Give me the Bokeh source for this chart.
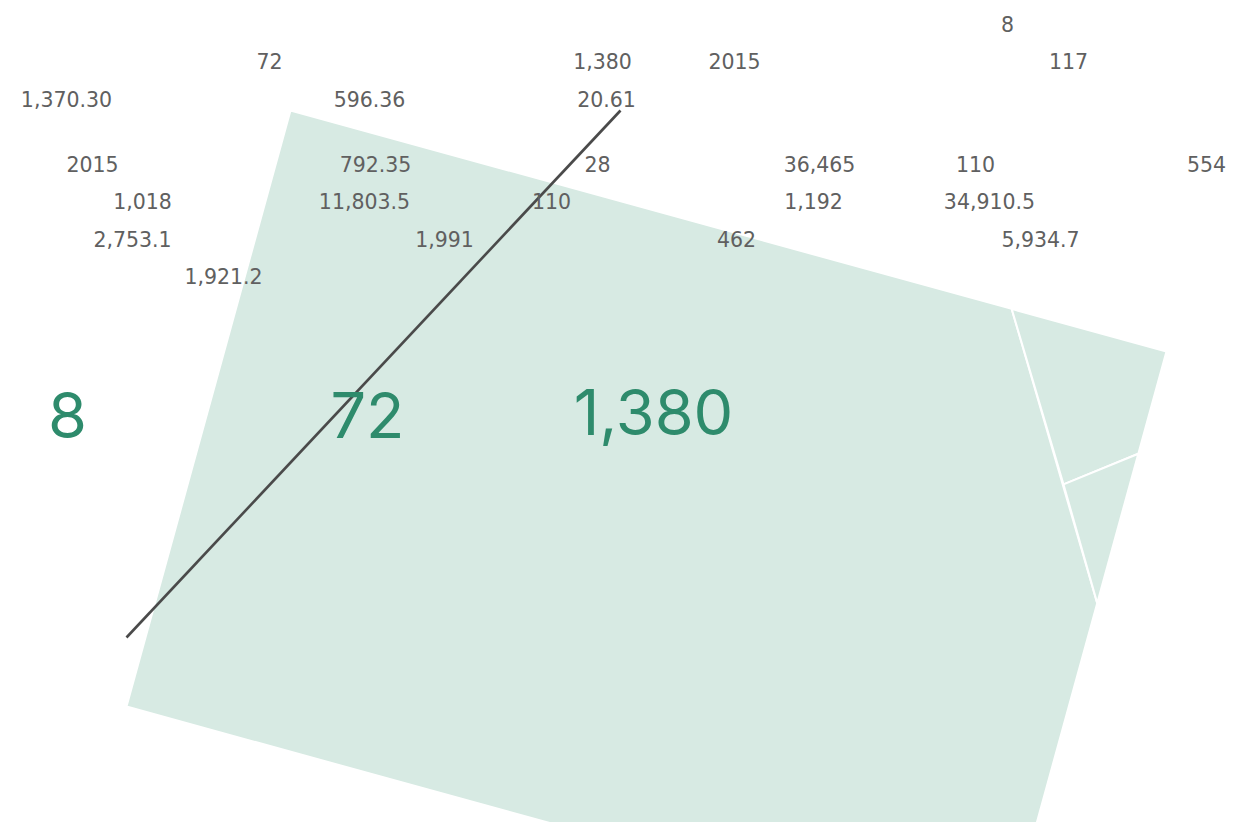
import numpy as np
from bokeh.plotting import figure
from bokeh.models import Range1d, ColumnDataSource
from bokeh.core.properties import value
from bokeh.embed import file_html
from bokeh.resources import INLINE

# ---------------- data ----------------
big_values = ["8", "72", "1,380"]
label_values = [
    "8", "72", "1,380", "2015", "117",
    "1,370.30", "596.36", "20.61",
    "2015", "792.35", "28", "36,465", "110", "554",
    "1,018", "11,803.5", "110", "1,192", "34,910.5",
    "2,753.1", "1,991", "462", "5,934.7",
    "1,921.2",
]
cell_names = ["main", "upper", "lower"]

# ---------------- layout (page pixels) ----------------
big_x = [67, 367, 653]
big_y = [414, 414, 411]
label_x = [1007, 269, 602, 734, 1068,
           66, 369, 606,
           92, 375, 597, 819, 975, 1206,
           142, 364, 551, 813, 989,
           132, 444, 736, 1040,
           223]
label_y = [23, 60, 60, 60, 60,
           98, 98, 98,
           163, 163, 163, 163, 163, 163,
           200, 200, 200, 200, 200,
           238, 238, 238, 238,
           275]

# rotated treemap frame
origin = np.array([290.0, 110.0])
frame_w, frame_h = 908.5, 618.2
angle = np.arctan2(241.0, 876.0)
# cell outlines in frame fractions (a along top edge, b down the left edge)
cells_local = [
    [(0, 0), (0.8233, 0), (1, 0.4222), (1, 1), (0, 1)],
    [(0.8233, 0), (1, 0), (1, 0.1715), (0.9296, 0.2515)],
    [(0.9296, 0.2515), (1, 0.1715), (1, 0.4222)],
]
trend_x = [620, 126]
trend_y = [110, 637]

u = np.array([np.cos(angle), np.sin(angle)])
v = np.array([-np.sin(angle), np.cos(angle)])


def to_page(pts):
    xs, ys = [], []
    for a, b in pts:
        pt = origin + a * frame_w * u + b * frame_h * v
        xs.append(pt[0])
        ys.append(pt[1])
    return xs, ys


xs_list, ys_list = [], []
for c in cells_local:
    xs, ys = to_page(c)
    xs_list.append(xs)
    ys_list.append(ys)

W, H = 1235, 822
p = figure(width=W, height=H,
           x_range=Range1d(0, W), y_range=Range1d(H, 0),
           output_backend="svg", toolbar_location=None, min_border=0)
p.axis.visible = False
p.grid.visible = False
p.outline_line_color = None
p.background_fill_color = "white"
p.border_fill_color = "white"

cell_src = ColumnDataSource(dict(xs=xs_list, ys=ys_list, name=cell_names))
p.patches("xs", "ys", source=cell_src, fill_color="#d7eae3",
          line_color="white", line_width=2)

p.line(trend_x, trend_y, line_color="#4a4a4a", line_width=2.6)

p.text(big_x, big_y, text=big_values, text_align="center",
       text_baseline="middle", text_font=value("Inter"),
       text_font_size="63px", text_color="#2e8b6c")

p.text(label_x, label_y, text=label_values, text_align="center",
       text_baseline="middle", text_font=value("DejaVu Sans"),
       text_font_size="20.5px", text_color="#606060")

open("out.html", "w").write(file_html(p, INLINE))
